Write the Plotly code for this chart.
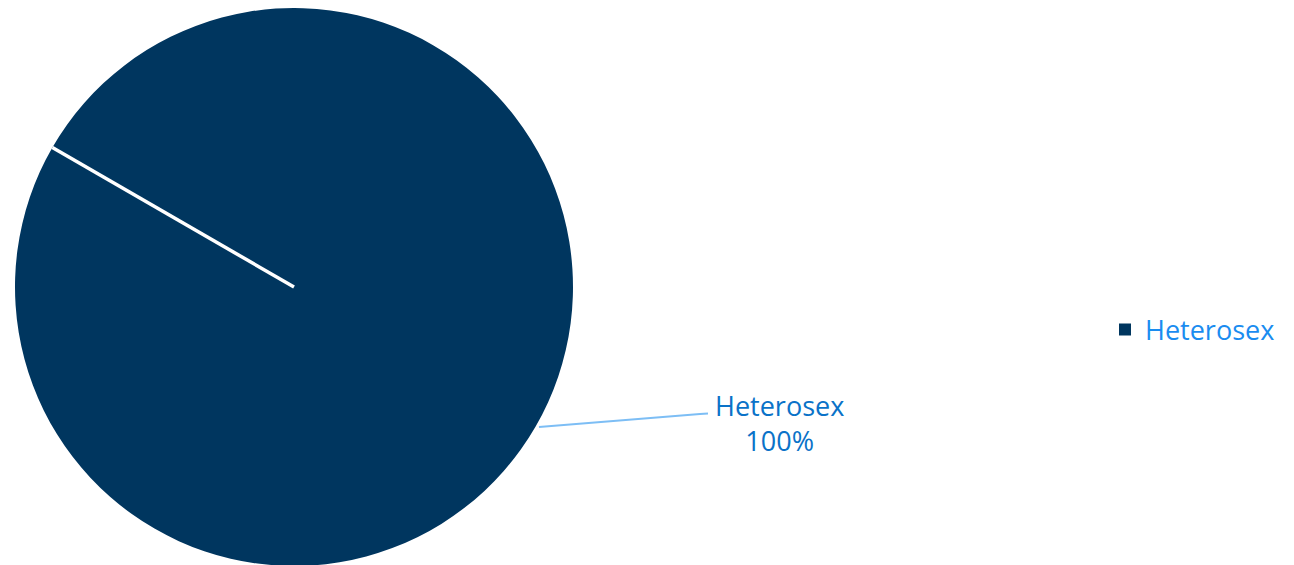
import math
import plotly.graph_objects as go

W, H = 1294, 565
PAGE_OFFSET = 8  # browser body margin around the figure

labels = ["Heterosex"]
values = [100]
slice_colors = ["#00365F"]

total = sum(values)
pcts = [f"{v / total * 100:.0f}%" for v in values]

# pie geometry in screen pixels
cx, cy, r = 294, 287, 279
start_deg = 300  # slice start, clockwise from 12 o'clock


def px_to_paper(x, y):
    return (x - PAGE_OFFSET) / W, 1 - (y - PAGE_OFFSET) / H


fig = go.Figure()
fig.add_trace(go.Pie(
    labels=labels,
    values=values,
    marker=dict(colors=slice_colors, line=dict(width=0)),
    textinfo="none",
    hoverinfo="label+percent",
    sort=False,
    direction="clockwise",
    rotation=start_deg,
    domain=dict(x=[(cx - r - PAGE_OFFSET) / W, (cx + r - PAGE_OFFSET) / W],
                y=[1 - 2 * r / H, 1]),
    showlegend=True,
))

# white border line at slice start
a = math.radians(start_deg)
ex, ey = cx + r * math.sin(a), cy - r * math.cos(a)
x0, y0 = px_to_paper(cx, cy)
x1, y1 = px_to_paper(ex, ey)
fig.add_shape(type="line", xref="paper", yref="paper", x0=x0, y0=y0, x1=x1, y1=y1,
              line=dict(color="white", width=3.5))

# leader line for the data label
p = [px_to_paper(539, 427), px_to_paper(700, 414), px_to_paper(708, 413.5)]
fig.add_shape(type="path", xref="paper", yref="paper",
              path=f"M {p[0][0]},{p[0][1]} L {p[1][0]},{p[1][1]} L {p[2][0]},{p[2][1]}",
              line=dict(color="#7DBEF5", width=2))

lx, ly = px_to_paper(779, 423)
fig.add_annotation(xref="paper", yref="paper", x=lx, y=ly, showarrow=False,
                   xanchor="center", yanchor="middle",
                   text=f"{labels[0]}<br>{pcts[0]}", align="center",
                   font=dict(family="Open Sans, sans-serif", size=27, color="#0A72C8"))

legx, legy = px_to_paper(1105, 330)
fig.update_layout(
    width=W, height=H,
    margin=dict(l=0, r=0, t=0, b=0),
    paper_bgcolor="white",
    plot_bgcolor="white",
    font=dict(family="Open Sans, sans-serif", size=27, color="#1A8CF0"),
    legend=dict(x=legx, y=legy, xanchor="left", yanchor="middle",
                font=dict(size=27, color="#1A8CF0"), itemwidth=30),
)

fig.write_html("out.html")
